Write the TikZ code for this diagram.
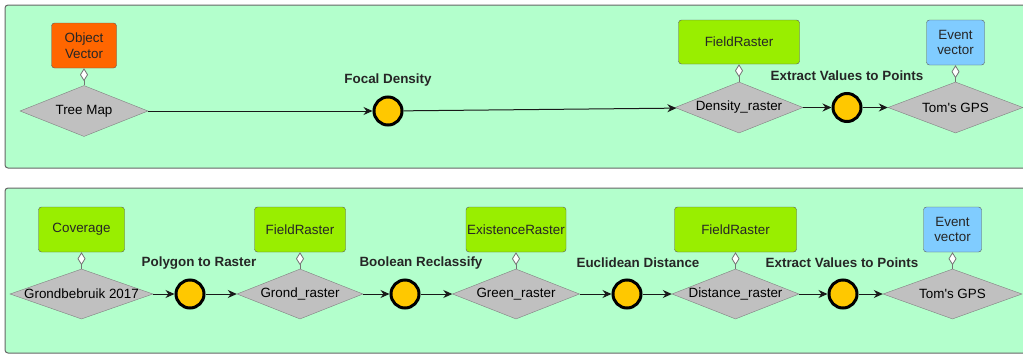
\documentclass[tikz,border=0pt]{standalone}
\usepackage{fontspec}
\setmainfont{Liberation Sans}
\usetikzlibrary{shapes.geometric,arrows.meta}
\definecolor{panelgreen}{HTML}{B3FFCC}
\definecolor{layergray}{HTML}{C0C0C0}
\definecolor{toolyellow}{HTML}{FFC800}
\definecolor{objorange}{HTML}{FF6600}
\definecolor{fieldgreen}{HTML}{99EE00}
\definecolor{eventblue}{HTML}{80CCFF}
\begin{document}
\begin{tikzpicture}[x=1pt, y=-1pt,
  font=\fontsize{13.4}{15.5}\selectfont,
  panel/.style={draw=black!60, fill=panelgreen, rounded corners=3pt, line width=1pt},
  typebox/.style={draw=black!65, rounded corners=3pt, inner sep=0pt, align=center, text=black!85, minimum height=45pt},
  layer/.style={diamond, draw=black!50, fill=layergray, inner sep=0pt, minimum height=51pt, text=black!85},
  tool/.style={circle, draw=black, line width=3pt, fill=toolyellow, minimum size=28pt, inner sep=0pt},
  toolname/.style={font=\fontsize{13.4}{15.5}\selectfont\bfseries, text=black!85},
  flow/.style={-{Stealth[length=9pt,width=8pt]}, line width=1pt, black!90},
  hastype/.style={{Diamond[length=13pt,width=8pt,fill=white]}-, draw=black!55, line width=0.8pt}]
\useasboundingbox (0,0) rectangle (1023,354);
\clip (0,0) rectangle (1023,354);

\draw[panel] (5,5) rectangle (1040,168);
\draw[panel] (5,188) rectangle (1040,353);

% top row
\node[typebox, fill=objorange, minimum width=65pt] (objvec) at (84,45.5) {Object\\Vector};
\node[layer, minimum width=128pt, label=center:{Tree Map}] (treemap) at (84,111) {};
\node[tool] (focal) at (388,111) {};
\node[toolname] (focallbl) at (388,80) {Focal Density};
\node[typebox, fill=fieldgreen, minimum width=121pt, minimum height=44pt] (fieldtop) at (739,42) {FieldRaster};
\node[layer, minimum width=128pt, label=center:{Density\_raster}] (densr) at (739,107.5) {};
\node[tool] (extrtop) at (847,107.5) {};
\node[toolname] (extrtoplbl) at (847,76) {Extract Values to Points};
\node[typebox, fill=eventblue, minimum width=58pt] (eventtop) at (955.5,42.5) {Event\\vector};
\node[layer, minimum width=135pt, label=center:{Tom\textquotesingle s GPS}] (gpstop) at (955.5,107.5) {};

\draw[hastype] (objvec.south) -- (treemap.north);
\draw[hastype] (fieldtop.south) -- (densr.north);
\draw[hastype] (eventtop.south) -- (gpstop.north);
\draw[flow] (treemap) -- (focal);
\draw[flow] (focal) -- (densr);
\draw[flow] (densr) -- (extrtop);
\draw[flow] (extrtop) -- (gpstop);

% bottom row
\node[typebox, fill=fieldgreen, minimum width=86pt] (coverage) at (81.5,229.5) {Coverage};
\node[layer, minimum width=143pt, minimum height=50pt, label=center:{Grondbebruik 2017}] (grond) at (81.5,294) {};
\node[tool] (poly) at (190,294) {};
\node[toolname] (polylbl) at (199,263) {Polygon to Raster};
\node[typebox, fill=fieldgreen, minimum width=91pt] (fielda) at (300,229.5) {FieldRaster};
\node[layer, minimum width=126pt, minimum height=50pt, label=center:{Grond\_raster}] (grondr) at (300,294) {};
\node[tool] (bool) at (405,294) {};
\node[toolname] (boollbl) at (421,263) {Boolean Reclassify};
\node[typebox, fill=fieldgreen, minimum width=100pt] (exist) at (516,229.5) {ExistenceRaster};
\node[layer, minimum width=127pt, minimum height=50pt, label=center:{Green\_raster}] (greenr) at (516,294) {};
\node[tool] (eucl) at (627,294) {};
\node[toolname] (eucllbl) at (638,263) {Euclidean Distance};
\node[typebox, fill=fieldgreen, minimum width=122pt] (fieldb) at (735.5,229.5) {FieldRaster};
\node[layer, minimum width=127pt, minimum height=50pt, label=center:{Distance\_raster}] (distr) at (735.5,294) {};
\node[tool] (extr) at (843,294) {};
\node[toolname] (extrlbl) at (842,263) {Extract Values to Points};
\node[typebox, fill=eventblue, minimum width=58pt] (eventb) at (952.5,229.5) {Event\\vector};
\node[layer, minimum width=139pt, minimum height=50pt, label=center:{Tom\textquotesingle s GPS}] (gpsb) at (952.5,294) {};

\draw[hastype] (coverage.south) -- (grond.north);
\draw[hastype] (fielda.south) -- (grondr.north);
\draw[hastype] (exist.south) -- (greenr.north);
\draw[hastype] (fieldb.south) -- (distr.north);
\draw[hastype] (eventb.south) -- (gpsb.north);
\draw[flow] (grond) -- (poly);
\draw[flow] (poly) -- (grondr);
\draw[flow] (grondr) -- (bool);
\draw[flow] (bool) -- (greenr);
\draw[flow] (greenr) -- (eucl);
\draw[flow] (eucl) -- (distr);
\draw[flow] (distr) -- (extr);
\draw[flow] (extr) -- (gpsb);
\end{tikzpicture}
\end{document}
